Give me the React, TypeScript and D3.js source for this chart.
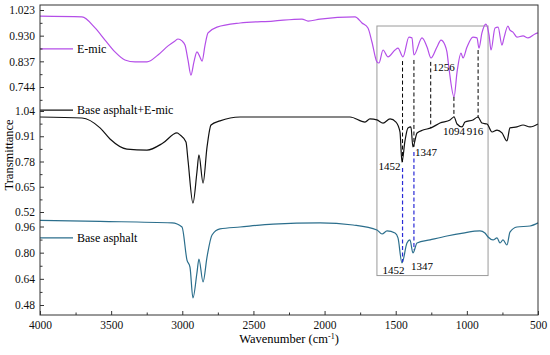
import { useEffect, useRef } from "react";
import * as d3 from "d3";

// E-mic spectrum (top panel)
const emicWave = [4000, 3705, 3613, 3543, 3473, 3403, 3332, 3248, 3171, 3100, 3051, 3030, 3002, 2981, 2960, 2939, 2918, 2897, 2876, 2861, 2840, 2819, 2756, 2594, 2362, 2159, 2116, 2032, 1786, 1737, 1695, 1667, 1632, 1618, 1589, 1554, 1505, 1484, 1449, 1407, 1386, 1372, 1315, 1280, 1252, 1210, 1182, 1154, 1140, 1126, 1090, 1069, 1041, 1027, 999, 957, 929, 915, 894, 866, 844, 830, 802, 781, 753, 739, 711, 697, 676, 648, 605, 570, 521, 500];
const emicT = [1.001, 0.998, 0.958, 0.914, 0.871, 0.842, 0.835, 0.835, 0.86, 0.893, 0.911, 0.918, 0.911, 0.896, 0.842, 0.787, 0.835, 0.871, 0.853, 0.838, 0.896, 0.94, 0.961, 0.976, 0.983, 0.99, 0.983, 0.99, 0.998, 0.976, 0.958, 0.907, 0.835, 0.831, 0.878, 0.853, 0.878, 0.885, 0.853, 0.925, 0.922, 0.86, 0.922, 0.889, 0.849, 0.889, 0.914, 0.896, 0.871, 0.813, 0.708, 0.798, 0.867, 0.849, 0.889, 0.925, 0.922, 0.885, 0.94, 0.972, 0.932, 0.878, 0.958, 0.961, 0.896, 0.922, 0.965, 0.95, 0.943, 0.925, 0.929, 0.922, 0.936, 0.94];

// Base asphalt + E-mic (middle panel)
const blendWave = [4000, 3705, 3578, 3508, 3389, 3248, 3136, 3037, 3016, 2974, 2960, 2925, 2897, 2883, 2854, 2826, 2798, 2735, 2594, 1892, 1821, 1716, 1681, 1632, 1589, 1540, 1498, 1470, 1456, 1435, 1414, 1393, 1379, 1350, 1308, 1252, 1189, 1118, 1090, 1069, 1034, 1013, 957, 922, 894, 858, 823, 788, 753, 718, 697, 648, 605, 556, 500];
const blendT = [1.009, 1.004, 0.953, 0.896, 0.844, 0.839, 0.875, 0.927, 0.917, 0.88, 0.788, 0.566, 0.726, 0.814, 0.669, 0.855, 0.968, 0.989, 1.009, 1.009, 1.009, 0.983, 0.999, 0.994, 0.978, 0.999, 0.983, 0.932, 0.777, 0.886, 0.953, 0.958, 0.855, 0.927, 0.942, 0.953, 0.978, 0.994, 1.009, 0.973, 0.958, 0.983, 0.994, 1.009, 0.978, 0.973, 0.932, 0.942, 0.927, 0.886, 0.953, 0.958, 0.968, 0.958, 0.973];

// Base asphalt (bottom panel)
const baseWave = [4000, 3578, 3072, 3002, 2967, 2946, 2925, 2897, 2883, 2854, 2826, 2791, 2735, 2594, 2362, 2032, 1800, 1632, 1596, 1561, 1505, 1484, 1456, 1421, 1400, 1379, 1350, 1259, 1140, 1027, 908, 873, 851, 816, 788, 767, 746, 718, 697, 648, 556, 500];
const baseT = [0.997, 0.991, 0.982, 0.957, 0.755, 0.712, 0.523, 0.676, 0.761, 0.621, 0.774, 0.908, 0.945, 0.957, 0.975, 0.982, 0.969, 0.939, 0.914, 0.933, 0.92, 0.89, 0.737, 0.859, 0.878, 0.798, 0.859, 0.878, 0.902, 0.92, 0.933, 0.92, 0.896, 0.878, 0.89, 0.859, 0.878, 0.847, 0.926, 0.957, 0.963, 0.982];

const xTicks = [4000, 3500, 3000, 2500, 2000, 1500, 1000, 500];
const topTicks = [1.023, 0.93, 0.837, 0.744];
const midTicks = [1.04, 0.91, 0.78, 0.65, 0.52];
const botTicks = [0.96, 0.8, 0.64, 0.48];

// black dashed guides: wavenumber, E-mic value at top, blend value at bottom
const guideWave = [1452, 1372, 1254, 1091, 921];
const guideTop = [0.838, 0.842, 0.835, 0.708, 0.878];
const guideBottom = [0.777, 0.855, 0.953, 1.009, 1.004];
// blue dashed guides: blend value at start, base value at end
const blueWave = [1452, 1372];
const blueStart = [0.747, 0.829];
const blueEnd = [0.743, 0.816];

const FONT = "'Liberation Serif', 'DejaVu Serif', serif";

export default function App() {
  const svgRef = useRef<SVGSVGElement>(null);

  useEffect(() => {
    const svg = d3.select(svgRef.current);
    svg.selectAll("*").remove();

    const width = 550;
    const height = 355;
    const m = { left: 40, right: 12, top: 5, bottom: 40 };

    const x = d3.scaleLinear().domain([4000, 500]).range([m.left, width - m.right]);
    const yTop = d3.scaleLinear().domain([0.744, 1.023]).range([87, 10]);
    const yMid = d3.scaleLinear().domain([0.52, 1.04]).range([212, 111]);
    const yBot = d3.scaleLinear().domain([0.48, 0.96]).range([305, 226.5]);

    const plotBottom = height - m.bottom;

    // gray box around fingerprint region
    svg.append("rect")
      .attr("x", x(1632))
      .attr("y", yTop(0.965))
      .attr("width", x(851) - x(1632))
      .attr("height", yBot(0.66) - yTop(0.965))
      .attr("fill", "none")
      .attr("stroke", "#9a9a9a")
      .attr("stroke-width", 1);

    const series = [
      { w: emicWave, t: emicT, y: yTop, color: "#b44ee8", name: "E-mic", ly: 0.882 },
      { w: blendWave, t: blendT, y: yMid, color: "#111111", name: "Base asphalt+E-mic", ly: 1.045 },
      { w: baseWave, t: baseT, y: yBot, color: "#2b6e8c", name: "Base asphalt", ly: 0.89 },
    ];

    series.forEach((s) => {
      const pts = s.w.map((w, i) => [w, s.t[i]] as [number, number]);
      const line = d3.line<[number, number]>()
        .x((d) => x(d[0]))
        .y((d) => s.y(d[1]))
        .curve(d3.curveMonotoneX);
      svg.append("path")
        .datum(pts)
        .attr("fill", "none")
        .attr("stroke", s.color)
        .attr("stroke-width", 1.2)
        .attr("d", line);

      // legend
      svg.append("line")
        .attr("x1", m.left).attr("x2", m.left + 33)
        .attr("y1", s.y(s.ly)).attr("y2", s.y(s.ly))
        .attr("stroke", s.color).attr("stroke-width", 1.2);
      svg.append("text")
        .attr("x", m.left + 37).attr("y", s.y(s.ly))
        .attr("dy", "0.35em")
        .attr("font-size", 12)
        .attr("font-family", FONT)
        .text(s.name);
    });

    // dashed guides
    guideWave.forEach((w, i) => {
      svg.append("line")
        .attr("x1", x(w)).attr("x2", x(w))
        .attr("y1", yTop(guideTop[i])).attr("y2", yMid(guideBottom[i]))
        .attr("stroke", "#000").attr("stroke-width", 1)
        .attr("stroke-dasharray", "4,2.5");
    });
    blueWave.forEach((w, i) => {
      svg.append("line")
        .attr("x1", x(w)).attr("x2", x(w))
        .attr("y1", yMid(blueStart[i])).attr("y2", yBot(blueEnd[i]))
        .attr("stroke", "#2a2ad6").attr("stroke-width", 1.2)
        .attr("stroke-dasharray", "4,2.5");
    });

    // peak labels
    const labels = [
      { t: "1452", x: x(1452) - 2, y: yMid(0.757), a: "end" },
      { t: "1347", x: x(1372) + 1, y: yMid(0.829), a: "start" },
      { t: "1256", x: x(1254) + 2, y: yTop(0.816), a: "start" },
      { t: "1094", x: x(1091), y: yMid(0.934), a: "middle" },
      { t: "916", x: x(921) - 3, y: yMid(0.934), a: "middle" },
      { t: "1452", x: x(1452) - 9, y: yBot(0.693), a: "middle" },
      { t: "1347", x: x(1372) + 8, y: yBot(0.718), a: "middle" },
    ];
    labels.forEach((l) => {
      svg.append("text")
        .attr("x", l.x).attr("y", l.y)
        .attr("dy", "0.35em")
        .attr("text-anchor", l.a)
        .attr("font-size", 11)
        .attr("font-family", FONT)
        .text(l.t);
    });

    // frame
    svg.append("rect")
      .attr("x", m.left).attr("y", m.top)
      .attr("width", width - m.right - m.left)
      .attr("height", plotBottom - m.top)
      .attr("fill", "none")
      .attr("stroke", "#333").attr("stroke-width", 1);

    // x axis
    const gx = svg.append("g").attr("transform", `translate(0,${plotBottom})`);
    gx.call(d3.axisBottom(x).tickValues(xTicks).tickSize(-4).tickPadding(6).tickFormat(d3.format("d")));
    gx.append("g").call(
      d3.axisBottom(x).tickValues(d3.range(3750, 500, -500)).tickSize(-2.5).tickFormat(() => "")
    );

    // y axes, one per panel
    const yAxes = [
      { y: yTop, ticks: topTicks, fmt: ".3f", minors: [0.9765, 0.8835, 0.7905, 0.6975] },
      { y: yMid, ticks: midTicks, fmt: ".2f", minors: [0.975, 0.845, 0.715, 0.585] },
      { y: yBot, ticks: botTicks, fmt: ".2f", minors: [0.88, 0.72, 0.56] },
    ];
    yAxes.forEach((a) => {
      const g = svg.append("g").attr("transform", `translate(${m.left},0)`);
      g.call(d3.axisLeft(a.y).tickValues(a.ticks).tickSize(-4).tickPadding(5).tickFormat(d3.format(a.fmt)));
      g.append("g").call(d3.axisLeft(a.y).tickValues(a.minors).tickSize(-2.5).tickFormat(() => ""));
    });

    svg.selectAll(".domain").remove();
    svg.selectAll(".tick line").attr("stroke", "#333");
    svg.selectAll(".tick text")
      .attr("font-size", 11.5)
      .attr("font-family", FONT)
      .attr("fill", "#111");

    // axis titles
    svg.append("text")
      .attr("x", (m.left + width - m.right) / 2)
      .attr("y", plotBottom + 28)
      .attr("text-anchor", "middle")
      .attr("font-size", 12.5)
      .attr("font-family", FONT)
      .text("Wavenumber (cm")
      .append("tspan").attr("baseline-shift", "super").attr("font-size", 8).text("-1")
      .select(function () { return this.parentNode as any; })
      .append("tspan").text(")");

    svg.append("text")
      .attr("transform", `translate(13,${(m.top + plotBottom) / 2 - 5}) rotate(-90)`)
      .attr("text-anchor", "middle")
      .attr("font-size", 12.5)
      .attr("font-family", FONT)
      .text("Transmittance");
  }, []);

  return (
    <svg
      ref={svgRef}
      width={550}
      height={355}
      style={{ position: "absolute", left: 0, top: 0, background: "#fff" }}
    />
  );
}
